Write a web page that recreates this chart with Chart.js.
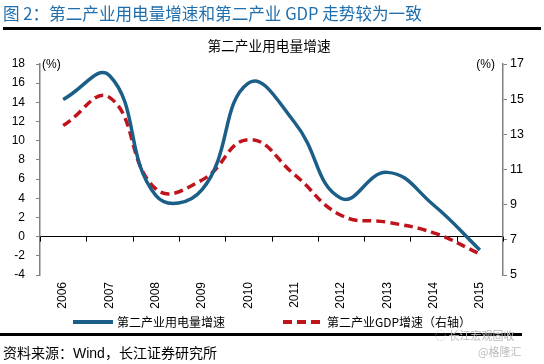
<!DOCTYPE html>
<html>
<head>
<meta charset="utf-8">
<script src="https://cdn.jsdelivr.net/npm/chart.js@4.4.1/dist/chart.umd.min.js"></script>
<style>
    body { margin: 0; background: #fff; }
    #wrap { position: relative; width: 544px; height: 364px; overflow: hidden; font-family: "Liberation Sans", "Noto Sans CJK SC", sans-serif; }
    #chart { position: absolute; left: 0; top: 0; }
    .txt { position: absolute; white-space: nowrap; }
    #head { left: 3px; top: 1px; font-size: 16.6px; color: #1f6fae; font-family: "Noto Sans CJK SC", sans-serif; }
    #headLine { position: absolute; left: 3px; top: 27px; width: 538px; height: 3px; background: #000; }
    #subTitle { left: 0; width: 538px; text-align: center; top: 35px; font-size: 13.7px; color: #000; font-family: "Noto Sans CJK SC", sans-serif; }
    .legend { top: 313px; font-size: 12px; color: #000; font-family: "Noto Sans CJK SC", sans-serif; display: flex; align-items: center; }
    #footLine { position: absolute; left: 0; top: 333px; width: 522px; height: 3px; background: #000; }
    #foot { left: 3px; top: 342px; font-size: 14px; color: #000; font-family: "Noto Sans CJK SC", sans-serif; }
    #foot b { font-weight: normal; font-family: "Liberation Sans", sans-serif; }
    #mark1 { left: 435px; top: 327px; font-size: 11px; color: #bbb; font-family: "Noto Sans CJK SC", sans-serif; }
    #mark2 { left: 478px; top: 343px; font-size: 11px; color: #bbb; font-family: "Noto Sans CJK SC", sans-serif; }
</style>
</head>
<body>
<div id="wrap">
    <canvas id="chart" width="544" height="364"></canvas>
    <div class="txt" id="head">图 2：第二产业用电量增速和第二产业 GDP 走势较为一致</div>
    <div id="headLine"></div>
    <div class="txt" id="subTitle">第二产业用电量增速</div>
    <div class="txt legend" style="left:73px">
        <svg width="40" height="6"><line x1="0" y1="3" x2="40" y2="3" stroke="#1b5e87" stroke-width="4"/></svg>
        <span style="margin-left:4px">第二产业用电量增速</span>
    </div>
    <div class="txt legend" style="left:283px">
        <svg width="40" height="6"><line x1="0" y1="3" x2="40" y2="3" stroke="#c0141c" stroke-width="4" stroke-dasharray="9,5"/></svg>
        <span style="margin-left:4px">第二产业GDP增速（右轴）</span>
    </div>
    <div id="footLine"></div>
    <div class="txt" id="foot">资料来源：<b>Wind</b>，长江证券研究所</div>
    <div class="txt" id="mark1">◌ 长江宏观固收</div>
    <div class="txt" id="mark2">@格隆汇</div>
</div>
<script>
// Data
const years = ['2006', '2007', '2008', '2009', '2010', '2011', '2012', '2013', '2014', '2015'];
const elecGrowth = [14.3, 16.8, 4.3, 4.9, 16.0, 11.9, 4.0, 6.7, 3.3, -1.4];
const gdpGrowth = [13.5, 15.1, 9.9, 10.4, 12.7, 10.7, 8.4, 8.0, 7.4, 6.2];
const leftTicks = [-4, 18, 2];
const rightTicks = [5, 17, 2];

// Draw (%) labels and the small tick marks on the zero line
const extrasPlugin = {
    id: 'extras',
    afterDatasetsDraw(chart) {
        const ctx = chart.ctx;
        const x = chart.scales.x;
        const y = chart.scales.y;
        const area = chart.chartArea;
        const y0 = y.getPixelForValue(0);
        ctx.save();
        ctx.strokeStyle = '#000';
        ctx.lineWidth = 1;
        for (let i = 0; i <= years.length; i++) {
            const px = Math.round(x.getPixelForValue(i - 0.5)) + 0.5;
            ctx.beginPath();
            ctx.moveTo(px, y0);
            ctx.lineTo(px, y0 + 5);
            ctx.stroke();
        }
        ctx.fillStyle = '#000';
        ctx.font = '12px "Liberation Sans"';
        ctx.textBaseline = 'middle';
        ctx.textAlign = 'left';
        ctx.fillText('(%)', area.left + 2, area.top + 1);
        ctx.textAlign = 'right';
        ctx.fillText('(%)', area.right - 8, area.top + 1);
        ctx.restore();
    }
};

new Chart(document.getElementById('chart'), {
    type: 'line',
    data: {
        labels: years,
        datasets: [{
            label: '第二产业用电量增速',
            data: elecGrowth,
            yAxisID: 'y',
            borderColor: '#1b5e87',
            borderWidth: 3.5,
            tension: 0.45,
            pointRadius: 0,
            fill: false
        }, {
            label: '第二产业GDP增速（右轴）',
            data: gdpGrowth,
            yAxisID: 'y1',
            borderColor: '#c0141c',
            borderWidth: 3.5,
            borderDash: [9, 5],
            tension: 0.45,
            pointRadius: 0,
            fill: false
        }]
    },
    options: {
        responsive: false,
        animation: false,
        layout: { padding: { top: 64, bottom: 49, left: 0, right: 0 } },
        plugins: {
            legend: { display: false },
            tooltip: { enabled: false }
        },
        scales: {
            x: {
                offset: true,
                grid: { display: false },
                border: { display: false },
                ticks: {
                    minRotation: 90,
                    maxRotation: 90,
                    color: '#000',
                    padding: -1,
                    font: { family: 'Liberation Sans', size: 12 }
                },
                afterFit(scale) { scale.height = 40; }
            },
            y: {
                position: 'left',
                min: leftTicks[0],
                max: leftTicks[1],
                ticks: {
                    stepSize: leftTicks[2],
                    color: '#000',
                    padding: 11,
                    font: { family: 'Liberation Sans', size: 12 }
                },
                grid: {
                    color: ctx => ctx.tick && ctx.tick.value === 0 ? '#000' : 'rgba(0,0,0,0)',
                    tickColor: '#808080',
                    tickLength: 4,
                    lineWidth: 1
                },
                border: { display: true, color: '#808080', width: 1.5 },
                afterFit(scale) { scale.width = 40; }
            },
            y1: {
                position: 'right',
                min: rightTicks[0],
                max: rightTicks[1],
                ticks: {
                    stepSize: rightTicks[2],
                    color: '#000',
                    padding: 3,
                    font: { family: 'Liberation Sans', size: 12.5 }
                },
                grid: {
                    drawOnChartArea: false,
                    tickColor: '#808080',
                    tickLength: 4
                },
                border: { display: true, color: '#808080', width: 1.5 },
                afterFit(scale) { scale.width = 41; }
            }
        }
    },
    plugins: [extrasPlugin]
});
</script>
</body>
</html>
